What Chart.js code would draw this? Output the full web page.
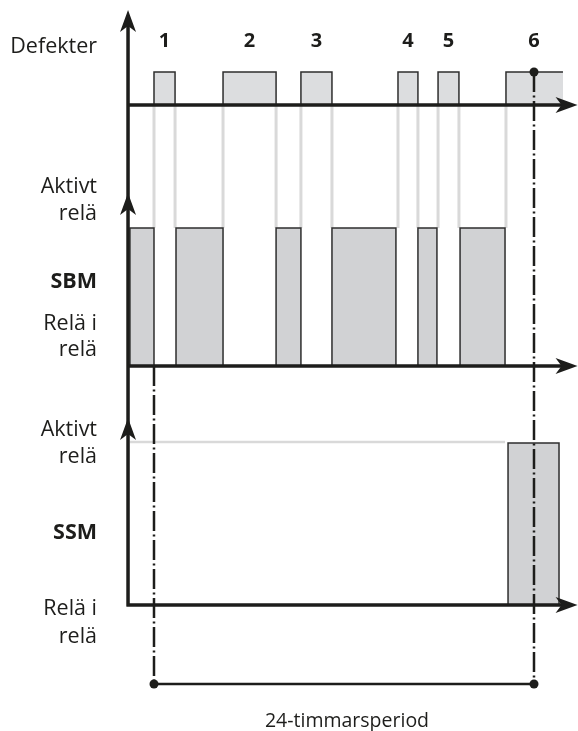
<!DOCTYPE html>
<html>
<head>
<meta charset="utf-8">
<script src="https://cdn.jsdelivr.net/npm/chart.js@4.4.0/dist/chart.umd.min.js"></script>
<style>
  html, body { margin: 0; padding: 0; background: #fff; }
  #chart { display: block; }
</style>
</head>
<body>
<canvas id="chart" width="578" height="731"></canvas>
<script>
// defects, in hours (0 = start of the 24h period)
const defectLabels = ["1", "2", "3", "4", "5", "6"];
const defectStart = [0, 4.36, 9.28, 15.41, 17.94, 22.23];
const defectEnd = [1.33, 7.71, 11.24, 16.67, 19.26, 25.83];

// SBM relay active
const sbmStart = [-1.52, 1.39, 7.71, 11.24, 16.67, 19.33];
const sbmEnd = [0, 4.36, 9.28, 15.28, 17.87, 22.17];

// SSM relay active
const ssmStart = [22.36];
const ssmEnd = [25.58];
const ssmIdle = [-1.52, 22.17];

const periodHours = [0, 24];
const periodText = "24-timmarsperiod";

// layout (y is in canvas units, top down)
const axisT = -1.64;
const axisEndT = 26.75;
const rows = {
  def: { base: 105, high: 72, top: 10 },
  sbm: { base: 366, high: 228, top: 193 },
  ssm: { base: 605, high: 443, top: 418 },
};
const periodY = 684;

const FONT = '"Open Sans", "Noto Sans", sans-serif';
const INK = "#1d1d1b";

function box(s, e, row, fillCol, openRight) {
  const pts = [
    { x: s, y: row.base },
    { x: s, y: row.high },
    { x: e, y: row.high },
  ];
  if (!openRight) pts.push({ x: e, y: row.base });
  return {
    data: pts,
    borderColor: "#2e2e2e",
    borderWidth: 1.5,
    backgroundColor: fillCol,
    fill: { value: row.base },
    pointRadius: 0,
    tension: 0,
    order: 1,
    clip: false,
  };
}

function grayLine(pts, w) {
  return {
    data: pts,
    borderColor: "#d9d9d9",
    borderWidth: w,
    pointRadius: 0,
    fill: false,
    order: 3,
    clip: false,
  };
}

const datasets = [];

// connectors from defect edges down to SBM level
defectStart.forEach(function (s, i) {
  datasets.push(grayLine([{ x: s, y: rows.def.base }, { x: s, y: rows.sbm.high }], 3));
  if (i < defectEnd.length - 1) {
    const e = defectEnd[i];
    datasets.push(grayLine([{ x: e, y: rows.def.base }, { x: e, y: rows.sbm.high }], 3));
  }
});
datasets.push(grayLine([{ x: ssmIdle[0], y: rows.ssm.high - 1 }, { x: ssmIdle[1], y: rows.ssm.high - 1 }], 2.5));

for (let i = 0; i < defectStart.length; i++) {
  datasets.push(box(defectStart[i], defectEnd[i], rows.def, "#dcdddf", i === defectStart.length - 1));
}
for (let i = 0; i < sbmStart.length; i++) {
  datasets.push(box(sbmStart[i], sbmEnd[i], rows.sbm, "#d1d2d4", false));
}
for (let i = 0; i < ssmStart.length; i++) {
  datasets.push(box(ssmStart[i], ssmEnd[i], rows.ssm, "#d1d2d4", false));
}

function arrow(ctx, px, py, dir) {
  const len = 22, half = 8, notch = 6;
  ctx.save();
  ctx.translate(px, py);
  if (dir === "right") ctx.rotate(Math.PI / 2);
  ctx.beginPath();
  ctx.moveTo(0, 0);
  ctx.lineTo(half, len);
  ctx.lineTo(0, len - notch);
  ctx.lineTo(-half, len);
  ctx.closePath();
  ctx.fillStyle = INK;
  ctx.fill();
  ctx.restore();
}

function dashDot(ctx, px, y0, y1) {
  ctx.save();
  ctx.strokeStyle = INK;
  ctx.lineWidth = 2.5;
  ctx.setLineDash([20, 3.5, 2, 3.5]);
  ctx.beginPath();
  ctx.moveTo(px, y0);
  ctx.lineTo(px, y1);
  ctx.stroke();
  ctx.restore();
}

function dot(ctx, px, py) {
  ctx.beginPath();
  ctx.arc(px, py, 4.5, 0, Math.PI * 2);
  ctx.fillStyle = INK;
  ctx.fill();
}

const overlay = {
  id: "overlay",
  afterDatasetsDraw(chart) {
    const ctx = chart.ctx;
    const x = chart.scales.x;
    const y = chart.scales.y;
    const ax = x.getPixelForValue(axisT);
    const aEnd = x.getPixelForValue(axisEndT);

    // axes
    ctx.save();
    ctx.strokeStyle = INK;
    ctx.lineWidth = 3.5;
    ctx.beginPath();
    ctx.moveTo(ax, y.getPixelForValue(rows.def.top) + 10);
    ctx.lineTo(ax, y.getPixelForValue(rows.ssm.base) + 1.5);
    Object.values(rows).forEach(function (r) {
      ctx.moveTo(ax - 1.5, y.getPixelForValue(r.base));
      ctx.lineTo(aEnd - 10, y.getPixelForValue(r.base));
    });
    ctx.stroke();
    ctx.restore();
    Object.values(rows).forEach(function (r) {
      arrow(ctx, ax, y.getPixelForValue(r.top), "up");
      arrow(ctx, aEnd, y.getPixelForValue(r.base), "right");
    });

    // 24h period markers
    const p0 = x.getPixelForValue(periodHours[0]);
    const p1 = x.getPixelForValue(periodHours[1]);
    const py = y.getPixelForValue(periodY);
    dashDot(ctx, p0, y.getPixelForValue(rows.sbm.base), py);
    dashDot(ctx, p1, y.getPixelForValue(rows.def.high), py);
    ctx.save();
    ctx.strokeStyle = INK;
    ctx.lineWidth = 2.5;
    ctx.beginPath();
    ctx.moveTo(p0, py);
    ctx.lineTo(p1, py);
    ctx.stroke();
    ctx.restore();
    dot(ctx, p0, py);
    dot(ctx, p1, py);
    dot(ctx, p1, y.getPixelForValue(rows.def.high));

    // defect numbers
    ctx.save();
    ctx.fillStyle = INK;
    ctx.textAlign = "center";
    ctx.textBaseline = "alphabetic";
    ctx.font = "bold 20px " + FONT;
    defectLabels.forEach(function (lab, i) {
      const t = i === defectLabels.length - 1 ? periodHours[1] : (defectStart[i] + defectEnd[i]) / 2;
      ctx.fillText(lab, x.getPixelForValue(t), 47);
    });

    // row labels
    const lx = ax - 31;
    ctx.textAlign = "right";
    const labels = [
      ["Defekter", 53, false],
      ["Aktivt", 193, false],
      ["relä", 220, false],
      ["SBM", 288, true],
      ["Relä i", 330, false],
      ["relä", 356, false],
      ["Aktivt", 436, false],
      ["relä", 463, false],
      ["SSM", 539, true],
      ["Relä i", 615, false],
      ["relä", 643, false],
    ];
    labels.forEach(function (l) {
      ctx.font = (l[2] ? "bold " : "") + "21.5px " + FONT;
      ctx.fillText(l[0], lx, l[1]);
    });

    ctx.textAlign = "center";
    ctx.font = "19.5px " + FONT;
    ctx.fillText(periodText, 347, 727);
    ctx.restore();
  },
};

new Chart(document.getElementById("chart"), {
  type: "line",
  data: { datasets: datasets },
  options: {
    responsive: false,
    animation: false,
    events: [],
    layout: { padding: 0 },
    plugins: { legend: { display: false }, tooltip: { enabled: false } },
    scales: {
      x: { type: "linear", min: -9.726, max: 26.779, display: false },
      y: { type: "linear", min: 0, max: 731, reverse: true, display: false },
    },
  },
  plugins: [overlay],
});
</script>
</body>
</html>
